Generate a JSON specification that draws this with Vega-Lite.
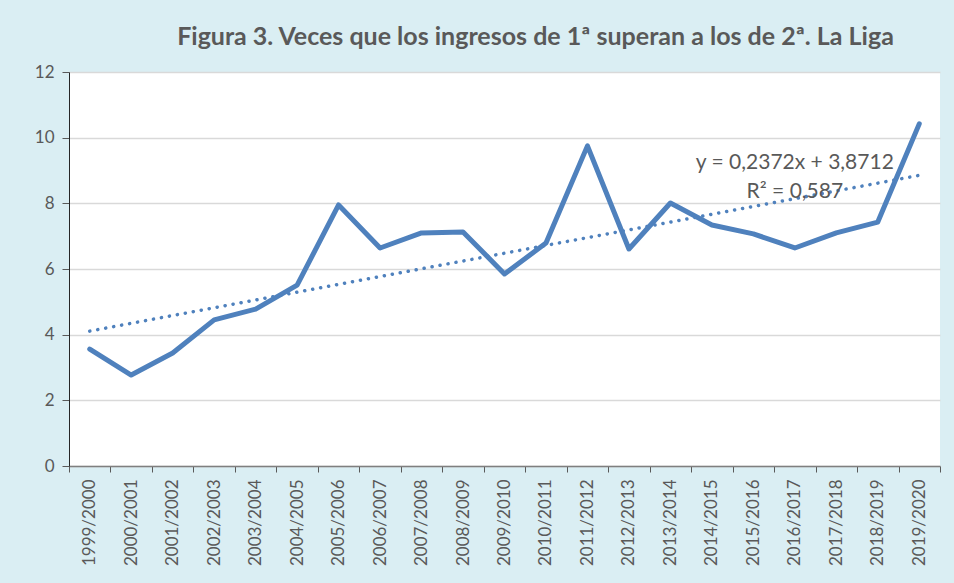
{
  "$schema": "https://vega.github.io/schema/vega-lite/v6.json",
  "autosize": {"type": "none"},
  "width": 871,
  "height": 394,
  "padding": {"left": 69, "top": 72, "right": 14, "bottom": 117},
  "background": "#DAEEF3",
  "config": {
    "view": {"fill": "white", "stroke": null},
    "font": "Lato",
    "axis": {"labelFont": "Lato", "labelColor": "#595959", "labelFontSize": 17}
  },
  "title": {
    "text": "Figura 3. Veces que los ingresos de 1ª superan a los de 2ª. La Liga",
    "font": "Lato",
    "fontSize": 25,
    "fontWeight": "bold",
    "color": "#595959",
    "anchor": "middle",
    "dx": 31,
    "offset": 13
  },
  "data": {
    "values": [
      {"season": "1999/2000", "value": 3.56, "trend": 4.108},
      {"season": "2000/2001", "value": 2.77, "trend": 4.345},
      {"season": "2001/2002", "value": 3.44, "trend": 4.583},
      {"season": "2002/2003", "value": 4.45, "trend": 4.820},
      {"season": "2003/2004", "value": 4.78, "trend": 5.057},
      {"season": "2004/2005", "value": 5.51, "trend": 5.294},
      {"season": "2005/2006", "value": 7.95, "trend": 5.532},
      {"season": "2006/2007", "value": 6.64, "trend": 5.769},
      {"season": "2007/2008", "value": 7.10, "trend": 6.006},
      {"season": "2008/2009", "value": 7.13, "trend": 6.243},
      {"season": "2009/2010", "value": 5.85, "trend": 6.480},
      {"season": "2010/2011", "value": 6.79, "trend": 6.718},
      {"season": "2011/2012", "value": 9.75, "trend": 6.955},
      {"season": "2012/2013", "value": 6.61, "trend": 7.192},
      {"season": "2013/2014", "value": 8.01, "trend": 7.429},
      {"season": "2014/2015", "value": 7.34, "trend": 7.667},
      {"season": "2015/2016", "value": 7.07, "trend": 7.904},
      {"season": "2016/2017", "value": 6.64, "trend": 8.141},
      {"season": "2017/2018", "value": 7.10, "trend": 8.378},
      {"season": "2018/2019", "value": 7.43, "trend": 8.615},
      {"season": "2019/2020", "value": 10.42, "trend": 8.853}
    ]
  },
  "encoding": {
    "x": {
      "field": "season",
      "type": "ordinal",
      "sort": null,
      "scale": {"type": "band", "paddingInner": 0, "paddingOuter": 0},
      "axis": {
        "title": null,
        "labelAngle": -90,
        "labelAlign": "right",
        "labelBaseline": "middle",
        "labelPadding": 7,
        "tickBand": "extent",
        "tickColor": "#595959",
        "tickSize": 6,
        "domainColor": "#7f7f7f",
        "domainWidth": 1.5,
        "grid": false
      }
    }
  },
  "layer": [
    {
      "mark": {"type": "line", "strokeWidth": 3.5, "strokeDash": [0.1, 8], "strokeCap": "round", "color": "#4F81BD"},
      "encoding": {
        "y": {"field": "trend", "type": "quantitative"}
      }
    },
    {
      "mark": {"type": "line", "strokeWidth": 5, "strokeCap": "round", "strokeJoin": "round", "color": "#4F81BD"},
      "encoding": {
        "y": {
          "field": "value",
          "type": "quantitative",
          "scale": {"domain": [0, 12], "nice": false},
          "axis": {
            "title": null,
            "values": [0, 2, 4, 6, 8, 10, 12],
            "tickColor": "#595959",
            "tickSize": 7,
            "labelPadding": 8,
            "domainColor": "#262626",
            "grid": true,
            "gridColor": "#d9d9d9",
            "gridWidth": 1.5
          }
        }
      }
    },
    {
      "data": {"values": [{"label": "trendline"}]},
      "mark": {
        "type": "text",
        "text": ["y = 0,2372x + 3,8712", "R² = 0,587"],
        "fontSize": 21,
        "lineHeight": 29,
        "color": "#595959",
        "align": "center",
        "baseline": "middle",
        "font": "Lato"
      },
      "encoding": {
        "x": {"datum": "2016/2017"},
        "y": {"datum": 9.22}
      }
    }
  ]
}
